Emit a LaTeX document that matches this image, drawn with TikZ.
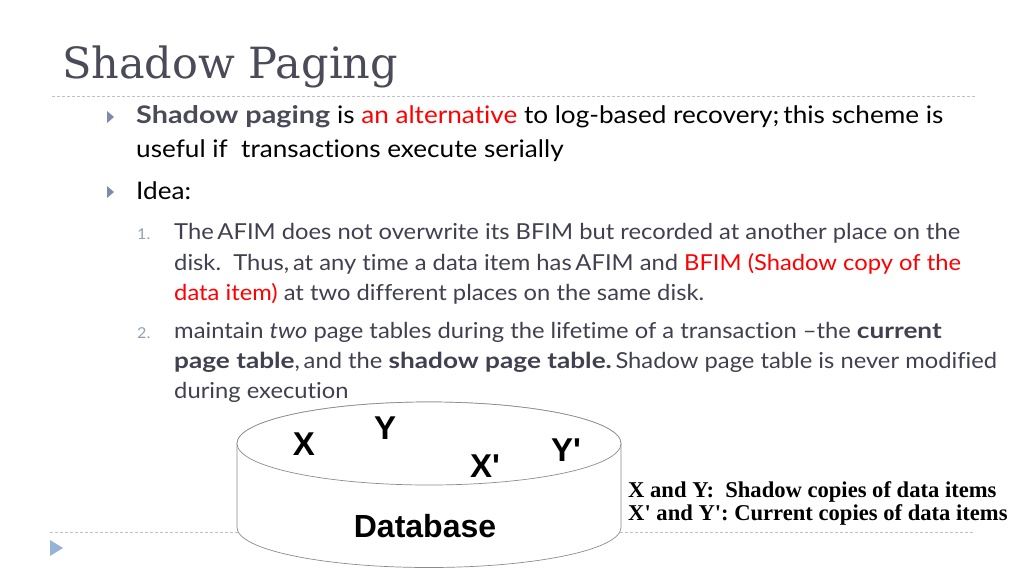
\documentclass[tikz,border=0pt]{standalone}
\usepackage{fontspec}
\setmainfont[Ligatures=NoCommon, FakeStretch=1.08, BoldFeatures={FakeStretch=1.19}]{Lato}
\newfontfamily\titlefont{DejaVu Serif}
\newfontfamily\dbfont{Liberation Sans}
\newfontfamily\legendfont{Liberation Serif}
\definecolor{titlegray}{HTML}{4A4A58}
\definecolor{bodygray}{HTML}{404050}
\definecolor{numgray}{HTML}{8FA0B8}
\definecolor{bulletblue}{HTML}{7D8AA8}
\definecolor{footblue}{HTML}{95B3D7}
\definecolor{dashgray}{HTML}{C0C0C8}
\definecolor{cylgray}{HTML}{8C8C8C}
\definecolor{hired}{HTML}{FF0000}
\tikzset{
  lone/.style={anchor=base west, inner sep=0pt, font=\fontsize{24.2}{30}\selectfont, text=black},
  ltwo/.style={anchor=base west, inner sep=0pt, font=\fontsize{22}{26}\selectfont, text=bodygray},
  numstyle/.style={anchor=base west, inner sep=0pt, font=\fontsize{15}{18}\selectfont, text=numgray},
  sepline/.style={draw=dashgray, dash pattern=on 3pt off 2pt, line width=0.8pt},
  bullettri/.style={fill=bulletblue},
  dbitem/.style={inner sep=0pt, font=\dbfont\bfseries\fontsize{33}{36}\selectfont, text=black},
  legend/.style={anchor=base west, inner sep=0pt, font=\legendfont\bfseries\fontsize{22.6}{24}\selectfont, text=black},
  cyl/.style={draw=cylgray, line width=0.7pt, fill=white}
}
\begin{document}
\begin{tikzpicture}[x=1pt,y=-1pt]
\useasboundingbox (0,0) rectangle (1024,576);
% title
\node[anchor=base west, inner sep=0pt, font=\titlefont\fontsize{43}{48}\selectfont, text=titlegray] (title) at (62,78) {Shadow Paging};
\draw[sepline] (52,96) -- (975,96);
% level one bullets
\fill[bullettri] (107,111) -- (114,117) -- (107,123) -- cycle;
\fill[bullettri] (107,186) -- (114,192) -- (107,198) -- cycle;
\node[lone] (a1) at (136,123) {\textbf{\color{titlegray}Shadow paging} is {\color{hired}an alternative} to log-based recovery;\,this scheme is};
\node[lone] (a2) at (136,157) {useful if\ \ transactions execute serially};
\node[lone] (a3) at (136,199) {Idea:};
% item 1
\node[numstyle] (n1) at (137,239) {1.};
\node[ltwo] (b1) at (174,239) {The\,AFIM does not overwrite its BFIM but recorded at another place on the};
\node[ltwo] (b2) at (174,270) {disk.\ \ Thus,\,at any time a data item has\,AFIM and {\color{hired}BFIM (Shadow copy of the}};
\node[ltwo] (b3) at (174,300) {{\color{hired}data item)} at two different places on the same disk.};
% item 2
\node[numstyle] (n2) at (137,338) {2.};
\node[ltwo] (c1) at (174,338) {maintain \textit{two} page tables during the lifetime of a transaction --the \textbf{current}};
\node[ltwo] (c2) at (174,368) {\textbf{page table},\,and the \textbf{shadow page table.}\,Shadow page table is never modified};
\node[ltwo] (c3) at (174,398) {during execution};
% footer line and triangle
\draw[sepline] (50,532) -- (975,532);
\fill[footblue] (50,540) -- (63,548) -- (50,556) -- cycle;
% cylinder
\path[cyl] (237,443.5) -- (237,527.5) arc[start angle=180, end angle=0, x radius=192, y radius=40] -- (621,443.5) arc[start angle=0, end angle=-180, x radius=192, y radius=41.5] -- cycle;
\draw[cyl] (429,443.5) ellipse[x radius=192, y radius=41.5];
\node[dbitem] (X) at (304,444) {X};
\node[dbitem] (Y) at (385,428) {Y};
\node[dbitem] (Xp) at (485,466) {X'};
\node[dbitem] (Yp) at (566,450) {Y'};
\node[dbitem, anchor=base, font=\dbfont\bfseries\fontsize{32}{36}\selectfont] (db) at (425,537) {Database};
% legend
\node[legend] (lg1) at (628,497) {X and Y:\ \ Shadow copies of data items};
\node[legend] (lg2) at (628,520) {X' and Y': Current copies of data items};
\end{tikzpicture}
\end{document}
